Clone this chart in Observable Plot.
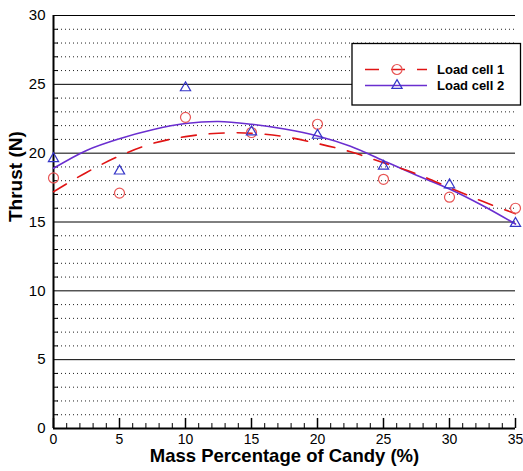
<!DOCTYPE html>
<html><head><meta charset="utf-8">
<script src="https://cdn.jsdelivr.net/npm/d3@7"></script>
<script src="https://cdn.jsdelivr.net/npm/@observablehq/plot@0.6"></script>
<style>body{margin:0;background:#fff;font-family:"Liberation Sans",Arial,sans-serif}</style>
</head><body><div id="chart"></div>
<script>
// Data
const massPct = [0, 5, 10, 15, 20, 25, 30, 35];
const loadCell1 = [18.2, 17.1, 22.6, 21.5, 22.1, 18.1, 16.8, 16.0];
const loadCell2 = [19.6, 18.7, 24.75, 21.55, 21.3, 19.05, 17.7, 14.9];
const fitX = [0, 2.5, 5, 7.5, 10, 12.5, 15, 17.5, 20, 22.5, 25, 27.5, 30, 32.5, 35];
const fit1 = [17.2, 18.6, 19.8, 20.7, 21.2, 21.45, 21.45, 21.2, 20.7, 20.1, 19.3, 18.5, 17.5, 16.5, 15.6];
const fit2 = [18.9, 20.2, 21.05, 21.7, 22.15, 22.3, 22.1, 21.75, 21.25, 20.5, 19.45, 18.4, 17.4, 16.2, 14.85];
const xTicks = [0, 5, 10, 15, 20, 25, 30, 35];
const xMinor = [1,2,3,4,6,7,8,9,11,12,13,14,16,17,18,19,21,22,23,24,26,27,28,29,31,32,33,34];
const yTicks = [0, 5, 10, 15, 20, 25, 30];
const yMajorGrid = [5, 10, 15, 20, 25, 30];
const yMinor = [1,2,3,4,6,7,8,9,11,12,13,14,16,17,18,19,21,22,23,24,26,27,28,29];
const seriesNames = ["Load cell 1", "Load cell 2"];
const xTitle = "Mass Percentage of Candy (%)";
const yTitle = "Thrust (N)";

const red = "#e01414", redMarker = "#e85555", purple = "#6a2ed0", blue = "#3434c8";

const pts1 = massPct.map((x, i) => ({x, y: loadCell1[i]}));
const pts2 = massPct.map((x, i) => ({x, y: loadCell2[i]}));
const curve1 = fitX.map((x, i) => ({x, y: fit1[i]}));
const curve2 = fitX.map((x, i) => ({x, y: fit2[i]}));

const plot = Plot.plot({
  width: 523, height: 471,
  marginLeft: 53, marginRight: 8, marginTop: 15, marginBottom: 43,
  style: {fontFamily: '"Liberation Sans", Arial, sans-serif', background: "white"},
  x: {domain: [0, 35]},
  y: {domain: [0, 30]},
  marks: [
    Plot.ruleY(yMinor, {stroke: "#222", strokeWidth: 1, strokeDasharray: "1,3"}),
    Plot.ruleY(yMajorGrid, {stroke: "black", strokeWidth: 1}),
    Plot.ruleY(yMinor, {x1: 0, x2: 0.38, stroke: "black", strokeWidth: 1}),
    Plot.ruleX(xTicks, {y1: 0, y2: 0.73, stroke: "black", strokeWidth: 1.5}),
    Plot.ruleX(xMinor, {y1: 0, y2: 0.36, stroke: "black", strokeWidth: 1}),
    Plot.ruleX([0], {stroke: "black", strokeWidth: 2}),
    Plot.ruleY([0], {stroke: "black", strokeWidth: 2}),
    Plot.axisX({ticks: xTicks, tickSize: 0, tickPadding: 6, fontSize: 14, label: null}),
    Plot.axisY({ticks: yTicks, tickSize: 0, tickPadding: 8, fontSize: 15, label: null}),
    Plot.line(curve2, {x: "x", y: "y", stroke: purple, strokeWidth: 1.6, curve: "catmull-rom"}),
    Plot.line(curve1, {x: "x", y: "y", stroke: red, strokeWidth: 1.6, strokeDasharray: "15,13", curve: "catmull-rom"}),
    Plot.dot(pts1, {x: "x", y: "y", symbol: "circle", r: 5, stroke: redMarker, strokeWidth: 1.2, fill: "none"}),
    Plot.dot(pts2, {x: "x", y: "y", symbol: "triangle", r: 3.8, stroke: blue, strokeWidth: 1.2, fill: "none"}),
    Plot.text([xTitle], {frameAnchor: "bottom", dy: 33, text: d => d, fontWeight: "bold", fontSize: 18.5, fill: "black"}),
    Plot.text([yTitle], {frameAnchor: "left", dx: -38, rotate: -90, text: d => d, fontWeight: "bold", fontSize: 19, fill: "black"})
  ]
});
document.getElementById("chart").appendChild(plot);

// Legend drawn into the same SVG
const svg = d3.select(plot);
const g = svg.append("g").attr("text-anchor", "start");
g.append("rect").attr("x", 352).attr("y", 43.5).attr("width", 168.5).attr("height", 61.5)
  .attr("fill", "white").attr("stroke", "black").attr("stroke-width", 1.3);
const rows = [
  {name: seriesNames[0], y: 69.5, color: red, dash: "14,12", marker: "circle"},
  {name: seriesNames[1], y: 85.5, color: purple, dash: null, marker: "triangle"}
];
rows.forEach(r => {
  const ln = g.append("line").attr("x1", 365).attr("x2", 427).attr("y1", r.y).attr("y2", r.y)
    .attr("stroke", r.color).attr("stroke-width", 1.6);
  if (r.dash) ln.attr("stroke-dasharray", r.dash);
  if (r.marker === "circle") {
    g.append("circle").attr("cx", 397).attr("cy", r.y).attr("r", 5)
      .attr("fill", "none").attr("stroke", redMarker).attr("stroke-width", 1.2);
  } else {
    g.append("path").attr("d", d3.symbol(d3.symbolTriangle, Math.PI * 3.8 * 3.8)())
      .attr("transform", `translate(397,${r.y})`)
      .attr("fill", "none").attr("stroke", blue).attr("stroke-width", 1.2);
  }
  g.append("text").attr("x", 437).attr("y", r.y + 4.5).text(r.name)
    .attr("text-anchor", "start")
    .attr("font-size", 13).attr("font-weight", "bold").attr("fill", "black")
    .attr("font-family", '"Liberation Sans", Arial, sans-serif');
});
</script>
</body></html>
